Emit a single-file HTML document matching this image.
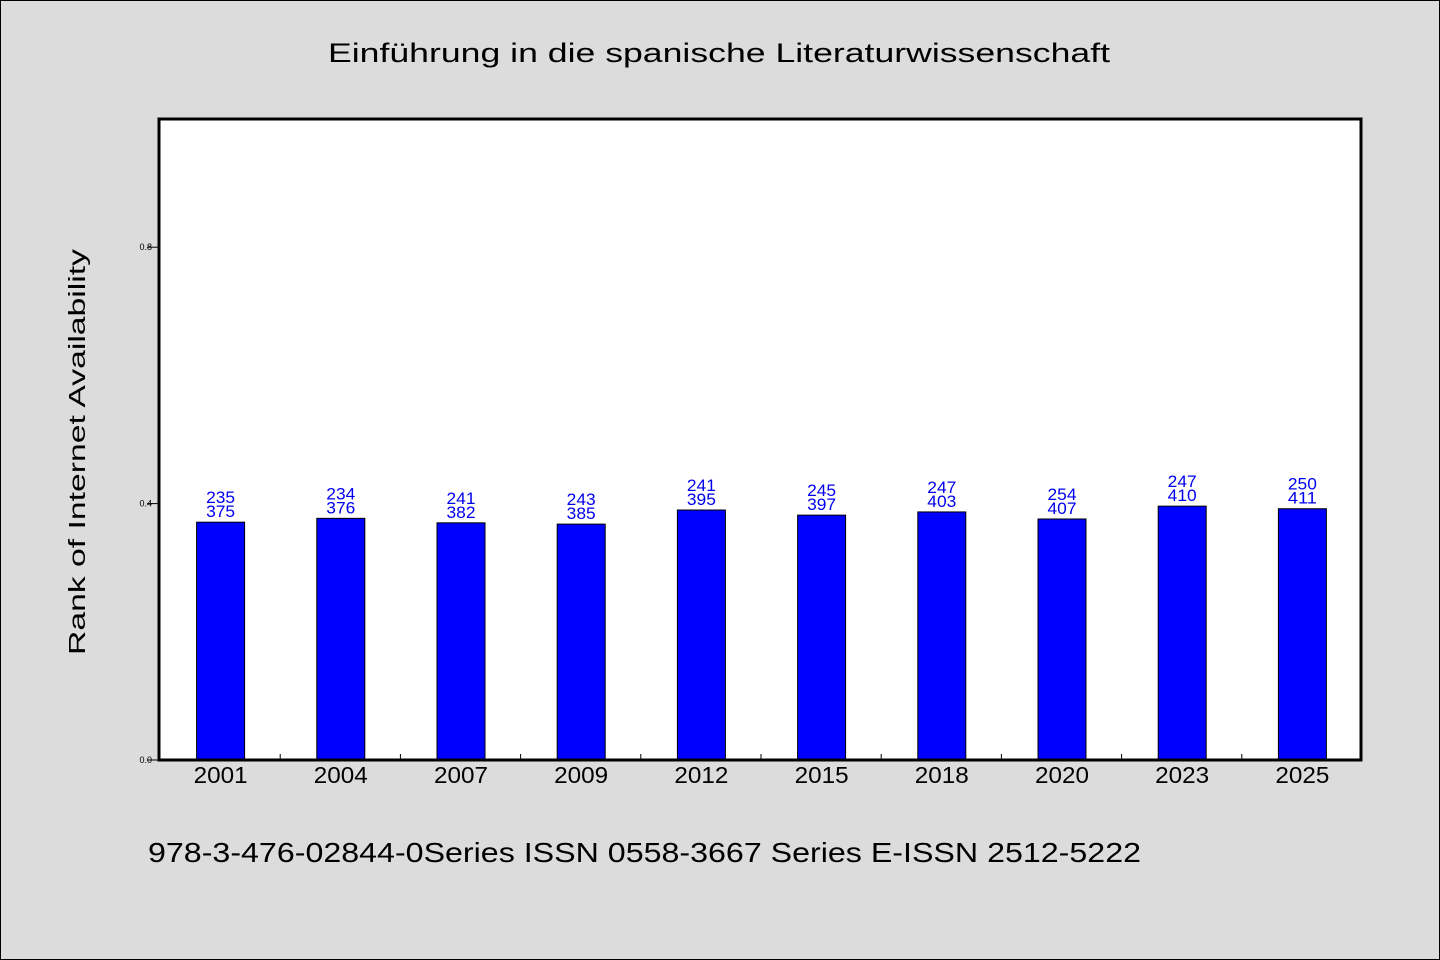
<!DOCTYPE html>
<html><head><meta charset="utf-8"><style>
html,body{margin:0;padding:0;background:#dcdcdc;}
svg{display:block;font-family:"Liberation Sans",sans-serif;}
</style></head><body>
<svg id="chart" width="1440" height="960" viewBox="0 0 1440 960">
<rect x="0.5" y="0.5" width="1439" height="959" fill="#dcdcdc" stroke="#000" stroke-width="1"/>
<text x="328" y="62" textLength="782" lengthAdjust="spacingAndGlyphs" font-size="27" fill="#000">Einführung in die spanische Literaturwissenschaft</text>
<rect x="159" y="119" width="1202" height="641" fill="#fff"/>
<g id="marks"></g>
<rect x="159" y="119" width="1202" height="641" fill="none" stroke="#000" stroke-width="3"/>
<text transform="translate(85,452) rotate(-90)" text-anchor="middle" textLength="406" lengthAdjust="spacingAndGlyphs" font-size="23" fill="#000">Rank of Internet Availability</text>
<text x="148" y="862" textLength="993" lengthAdjust="spacingAndGlyphs" font-size="28" fill="#000">978-3-476-02844-0Series ISSN 0558-3667 Series E-ISSN 2512-5222</text>
</svg>
<script>
const categories=["2001","2004","2007","2009","2012","2015","2018","2020","2023","2025"];
const values=[0.371,0.377,0.370,0.368,0.390,0.382,0.387,0.376,0.396,0.392];
const labelTop=["235","234","241","243","241","245","247","254","247","250"];
const labelBottom=["375","376","382","385","395","397","403","407","410","411"];
const yTicks=[0.0,0.4,0.8];
const yTickLabels=["0.0","0.4","0.8"];
const X0=159,X1=1361,Y0=760,Y1=119,yMax=1.0;
const ns="http://www.w3.org/2000/svg";
const g=document.getElementById("marks");
const band=(X1-X0)/categories.length;
function xc(i){return X0+band*(i+0.5)+1.5;}
function y(v){return Y0-(v/yMax)*(Y0-Y1);}
function mk(tag,attrs,text){const e=document.createElementNS(ns,tag);for(const k in attrs)e.setAttribute(k,attrs[k]);if(text!=null)e.textContent=text;g.appendChild(e);return e;}
yTicks.forEach((t,i)=>{
  const l=mk("line",{x1:147,x2:159,y1:y(t),y2:y(t),stroke:"#000","stroke-width":1});
  
  
  const tx=mk("text",{x:152,y:y(t)+3,"text-anchor":"end","font-size":9,fill:"#000"},yTickLabels[i]);
  
  
});
categories.forEach((c,i)=>{
  if(i>0){
    const t=mk("line",{x1:X0+band*i+1,x2:X0+band*i+1,y1:Y0,y2:Y0-6,stroke:"#000","stroke-width":1});
    
    
  }
  const top=y(values[i]);
  const b=mk("rect",{x:xc(i)-24,y:top,width:48,height:Y0-top,fill:"#0000ff",stroke:"#000","stroke-width":1});
  
  
  const l1=mk("text",{x:xc(i),y:top-19,"text-anchor":"middle","font-size":17,textLength:29,lengthAdjust:"spacingAndGlyphs",fill:"#0000ee"},labelTop[i]);
  
  
  const l2=mk("text",{x:xc(i),y:top-5,"text-anchor":"middle","font-size":17,textLength:29,lengthAdjust:"spacingAndGlyphs",fill:"#0000ee"},labelBottom[i]);
  
  
  const xl=mk("text",{x:xc(i),y:783,"text-anchor":"middle","font-size":23,textLength:54,lengthAdjust:"spacingAndGlyphs",fill:"#000"},c);
  
  
});
</script>
</body></html>
